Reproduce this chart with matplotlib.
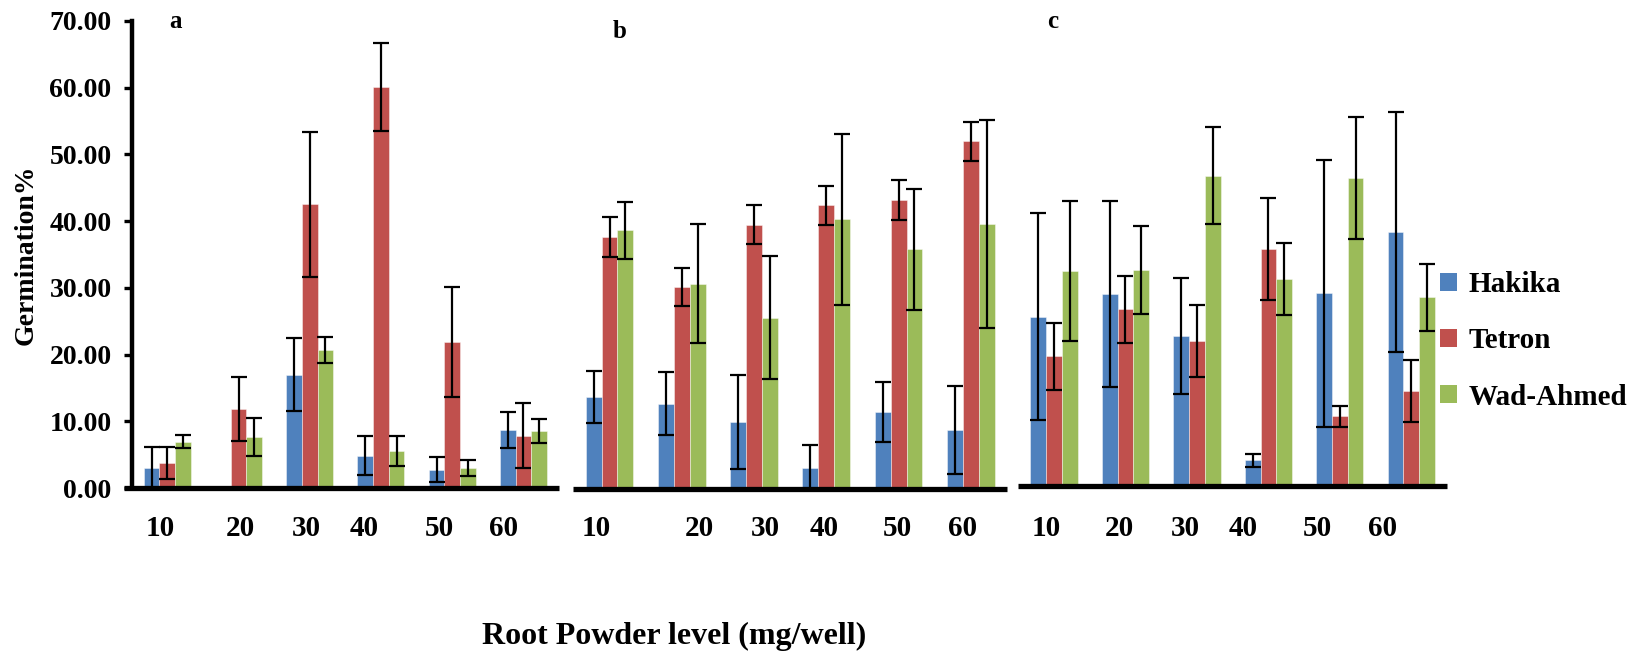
import matplotlib
matplotlib.use('Agg')
import numpy as np
import matplotlib.pyplot as plt
from matplotlib.patches import Patch

# Root powder levels (mg/well) and the three sorghum cultivars
levels = ['10', '20', '30', '40', '50', '60']
cultivars = ['Hakika', 'Tetron', 'Wad-Ahmed']
panel_names = ['a', 'b', 'c']

# Germination % means and error bars, panel a
hakika_a = [3.0, 0.0, 17.0, 4.9, 2.8, 8.7]
hakika_a_err = [3.2, 0.0, 5.5, 2.9, 1.9, 2.7]
tetron_a = [3.8, 11.9, 42.5, 60.1, 21.9, 7.9]
tetron_a_err = [2.4, 4.8, 10.9, 6.6, 8.3, 4.8]
wad_a = [7.0, 7.7, 20.7, 5.6, 3.0, 8.6]
wad_a_err = [1.0, 2.85, 2.0, 2.25, 1.2, 1.75]

# panel b
hakika_b = [13.8, 12.8, 10.1, 3.2, 11.6, 8.9]
hakika_b_err = [3.85, 4.7, 7.0, 3.4, 4.45, 6.6]
tetron_b = [37.8, 30.3, 39.6, 42.5, 43.3, 52.1]
tetron_b_err = [2.95, 2.9, 2.95, 2.95, 2.95, 2.95]
wad_b = [38.8, 30.8, 25.7, 40.4, 35.9, 39.7]
wad_b_err = [4.25, 8.95, 9.25, 12.85, 9.0, 15.6]

# panel c
hakika_c = [25.3, 28.7, 22.4, 3.8, 28.8, 38.0]
hakika_c_err = [15.5, 13.9, 8.7, 1.0, 20.0, 18.0]
tetron_c = [19.4, 26.4, 21.6, 35.4, 10.4, 14.2]
tetron_c_err = [5.0, 5.0, 5.4, 7.65, 1.6, 4.6]
wad_c = [32.1, 32.3, 46.4, 31.0, 46.1, 28.2]
wad_c_err = [10.45, 6.65, 7.25, 5.4, 9.1, 5.05]

colors = ['#4F81BD', '#C0504D', '#9BBB59']
font = 'Liberation Serif'

W, H = 1639, 657
fig = plt.figure(figsize=(W / 100, H / 100), dpi=100)


def frac(x, y):
    # pixel position (from top-left) -> figure fraction
    return x / W, 1 - y / H


# axes boxes in pixels: left, right, baseline y
boxes = [(131.7, 559.0, 488.3), (573.4, 1007.0, 489.3), (1018.3, 1447.0, 485.7)]
plot_h = 467.6  # pixels from 0 to 70

# where the level labels sit under each panel (pixels)
label_x = [[160, 240, 306, 364, 439, 504],
           [596, 699, 765, 824, 897, 963],
           [1046, 1119, 1185, 1243, 1317, 1383]]
letter_pos = [(176, 22), (620, 32), (1053, 21)]

panels = [
    ([hakika_a, tetron_a, wad_a], [hakika_a_err, tetron_a_err, wad_a_err]),
    ([hakika_b, tetron_b, wad_b], [hakika_b_err, tetron_b_err, wad_b_err]),
    ([hakika_c, tetron_c, wad_c], [hakika_c_err, tetron_c_err, wad_c_err]),
]

x = np.arange(len(levels))
bw = 0.22

for i, (vals, errs) in enumerate(panels):
    left, right, base = boxes[i]
    l, b = frac(left, base)
    ax = fig.add_axes([l, b, (right - left) / W, plot_h / H])
    for k in range(3):
        ax.bar(x + (k - 1) * bw, vals[k], bw, color=colors[k],
               edgecolor=(1, 1, 1, 0.5), linewidth=0.6, zorder=2)
        ax.errorbar(x + (k - 1) * bw, vals[k], yerr=errs[k], fmt='none',
                    ecolor='black', elinewidth=1.6, capsize=6, capthick=1.6,
                    zorder=3)
    ax.set_xlim(-0.5, 5.5)
    ax.set_ylim(0, 70)
    ax.set_xticks([])
    for s in ['top', 'right']:
        ax.spines[s].set_visible(False)
    ax.spines['bottom'].set_linewidth(3.8)
    ax.spines['bottom'].set_capstyle('butt')
    if i == 0:
        ax.spines['bottom'].set_bounds(-0.61, 5.5)
        ax.spines['left'].set_linewidth(3.2)
        ax.set_yticks(np.arange(0, 71, 10))
        ax.set_yticklabels(['%.2f' % v for v in np.arange(0, 71, 10)],
                           family=font, fontweight='bold', fontsize=20)
        ax.tick_params(axis='y', direction='out', length=5.5, width=2.4,
                       pad=9)
    else:
        ax.spines['left'].set_visible(False)
        ax.set_yticks([])
    ax.patch.set_alpha(0)

    for j, lab in enumerate(levels):
        fx, fy = frac(label_x[i][j], 529)
        fig.text(fx, fy, lab, ha='center', va='center', family=font,
                 fontweight='bold', fontsize=21)
    fx, fy = frac(*letter_pos[i])
    fig.text(fx, fy, panel_names[i], ha='center', va='center', family=font,
             fontweight='bold', fontsize=18)

fx, fy = frac(26, 255)
fig.text(fx, fy, 'Germination%', rotation=90, ha='center', va='center',
         family=font, fontweight='bold', fontsize=20)
fx, fy = frac(674, 636)
fig.text(fx, fy, 'Root Powder level (mg/well)', ha='center', va='center',
         family=font, fontweight='bold', fontsize=23)

handles = [Patch(facecolor=c, edgecolor='none') for c in colors]
fig.legend(handles, cultivars, loc='center left',
           bbox_to_anchor=frac(1440, 341), frameon=False,
           prop={'family': font, 'weight': 'bold', 'size': 21},
           handlelength=0.57, handleheight=0.57, handletextpad=0.4,
           labelspacing=1.0, borderpad=0, borderaxespad=0)

fig.savefig('out.png', dpi=100)
